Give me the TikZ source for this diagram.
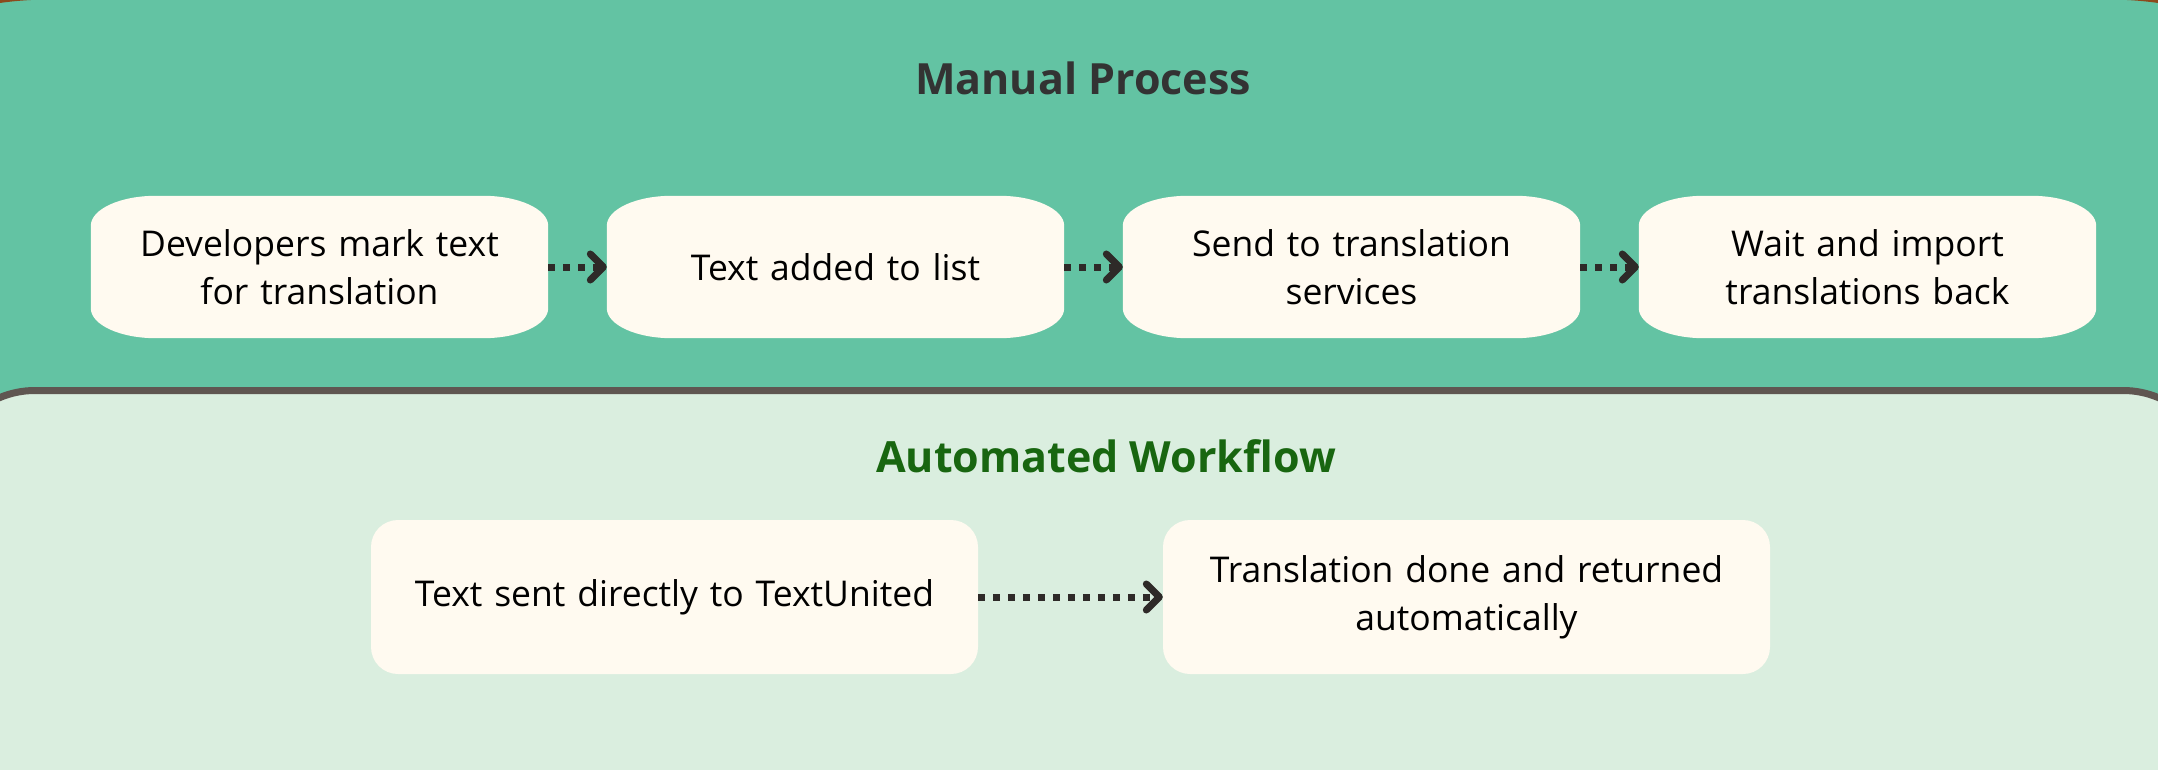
\documentclass[tikz,border=0pt]{standalone}
\usepackage{fontspec}
\setmainfont{Open Sans}
\usetikzlibrary{arrows.meta, backgrounds}
\definecolor{panelgreen}{RGB}{99,195,163}
\definecolor{lightgreen}{RGB}{218,238,223}
\definecolor{borderdark}{RGB}{95,86,81}
\definecolor{framebrown}{RGB}{140,74,28}
\definecolor{cream}{RGB}{255,250,240}
\definecolor{arrowdark}{RGB}{46,42,40}
\definecolor{titlegray}{RGB}{51,51,51}
\definecolor{titlegreen}{RGB}{24,102,16}

\begin{document}
\begin{tikzpicture}[x=1pt, y=-1pt,
  heading/.style={font=\fontsize{43}{50}\selectfont\bfseries},
  stepbox/.style={minimum width=457pt, minimum height=142pt, text width=420pt, align=center, inner sep=0pt, font=\fontsize{35.5}{48}\selectfont},
  autobox/.style={fill=cream, rounded corners=27pt, minimum width=607pt, minimum height=154pt, text width=560pt, align=center, inner sep=0pt, font=\fontsize{35.5}{48}\selectfont},
  flow/.style={arrowdark, line width=7pt, dash pattern=on 6.5pt off 8.5pt, -{Straight Barb[length=13pt, width=26pt, round]}}]

  \useasboundingbox (0,0) rectangle (2158,770);

  % Panels
  \begin{scope}[on background layer]
    \filldraw[fill=panelgreen, draw=framebrown, line width=3pt, rounded corners=359pt] (-309,-2) rectangle (2467,1000);
    \filldraw[fill=lightgreen, draw=borderdark, line width=7pt, rounded corners=91pt] (-56,390.5) rectangle (2214,1000);
  \end{scope}

  % Manual process
  \node[heading, text=titlegray] (manual) at (1083, 78) {Manual Process};
  \node[stepbox] (dev) at (319.5, 267) {Developers mark text\\for translation};
  \node[stepbox] (added) at (835.5, 267) {Text added to list};
  \node[stepbox] (send) at (1351.5, 267) {Send to translation\\services};
  \node[stepbox] (wait) at (1867.5, 267) {Wait and import\\translations back};

  \draw[flow] (dev.east) -- (added.west);
  \draw[flow] (added.east) -- (send.west);
  \draw[flow] (send.east) -- (wait.west);

  % Soft step shapes
  \begin{scope}[on background layer]
    \foreach \n in {dev, added, send, wait}
      \fill[cream] ([xshift=65pt]\n.north west) -- ([xshift=-65pt]\n.north east)
        arc[start angle=90, end angle=0, x radius=65pt, y radius=30pt]
        -- ([yshift=30pt]\n.south east)
        arc[start angle=0, end angle=-90, x radius=65pt, y radius=30pt]
        -- ([xshift=65pt]\n.south west)
        arc[start angle=270, end angle=180, x radius=65pt, y radius=30pt]
        -- ([yshift=-30pt]\n.north west)
        arc[start angle=180, end angle=90, x radius=65pt, y radius=30pt]
        -- cycle;
  \end{scope}

  % Automated workflow
  \node[heading, text=titlegreen] (auto) at (1106, 456) {Automated Workflow};
  \node[autobox] (direct) at (674.5, 597) {Text sent directly to TextUnited};
  \node[autobox] (done) at (1466.5, 597) {Translation done and returned\\automatically};

  \draw[flow] (direct.east) -- (done.west);
\end{tikzpicture}
\end{document}
